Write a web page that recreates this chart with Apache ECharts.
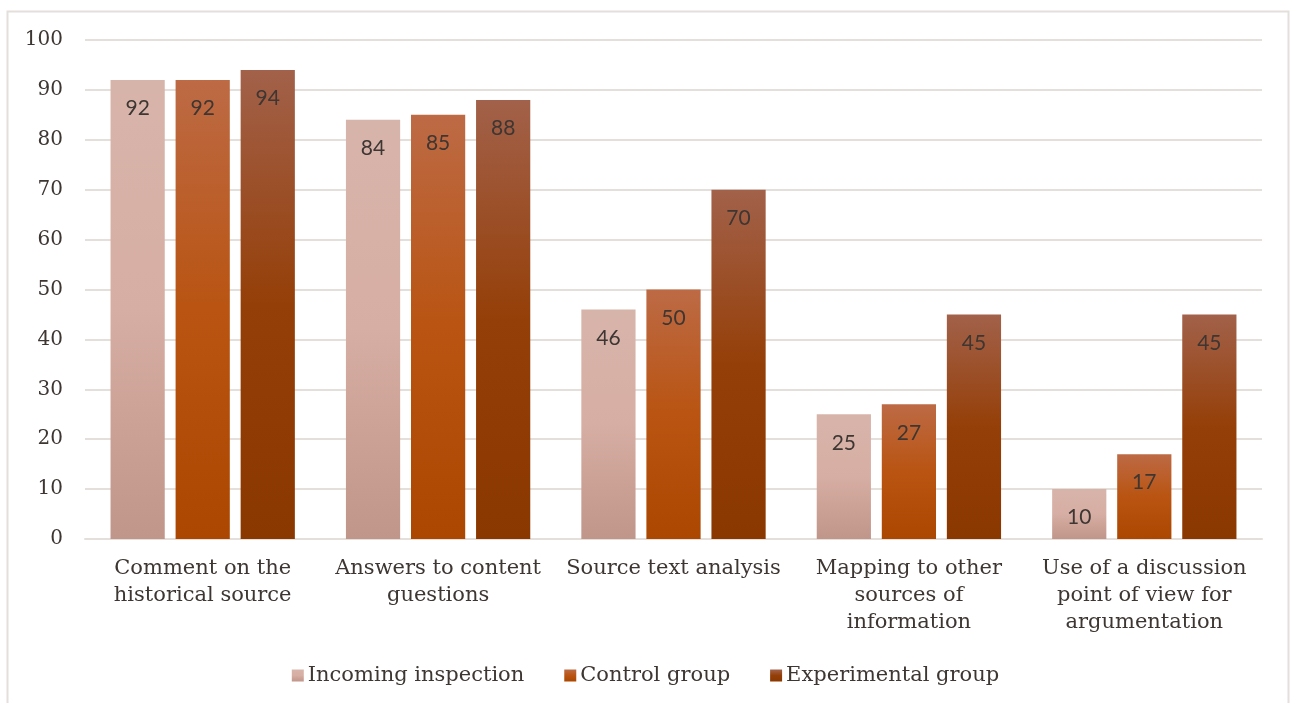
<!DOCTYPE html>
<html><head><meta charset="utf-8">
<script src="https://cdn.jsdelivr.net/npm/echarts@6/dist/echarts.min.js"></script>
<style>html,body{margin:0;padding:0;background:#fff}#c{width:1291px;height:703px}</style>
</head><body><div id="c"></div>
<script>
var categories = ["Comment on the\nhistorical source", "Answers to content\nguestions", "Source text analysis", "Mapping to other\nsources of\ninformation", "Use of a discussion\npoint of view for\nargumentation"];
var seriesNames = ["Incoming inspection", "Control group", "Experimental group"];
var incoming = [92, 84, 46, 25, 10];
var control = [92, 85, 50, 27, 17];
var experimental = [94, 88, 70, 45, 45];
var yTicks = [0, 10, 20, 30, 40, 50, 60, 70, 80, 90, 100];

function grad(top, mid, bot) {
  return new echarts.graphic.LinearGradient(0, 0, 0, 1, [
    {offset: 0, color: top}, {offset: 0.5, color: mid}, {offset: 1, color: bot}
  ]);
}
var colors = [
  grad('#d7b4aa', '#d7aea3', '#c0958a'),
  grad('#bd6a45', '#b95412', '#ab4700'),
  grad('#a2614a', '#953f08', '#8b3700')
];
var serif = "'DejaVu Serif', serif";
var sans = "'Lato', 'Liberation Sans', sans-serif";
var textColor = '#3d3632';
var datasets = [incoming, control, experimental];

var chart = echarts.init(document.getElementById('c'), null, {renderer: 'canvas'});
chart.setOption({
  animation: false,
  graphic: [{type: 'rect', shape: {x: 7.5, y: 11.5, width: 1281, height: 720}, style: {fill: 'none', stroke: '#e4dfdb', lineWidth: 2}, silent: true}],
  grid: {left: 85, right: 29, top: 40, bottom: 164, containLabel: false},
  legend: {
    bottom: 12, left: 'center', itemWidth: 12, itemHeight: 12, itemGap: 40,
    icon: 'rect',
    textStyle: {fontFamily: serif, fontSize: 21, color: textColor, padding: [0, 0, 0, -1]},
    data: seriesNames.map(function (n, i) { return {name: n, itemStyle: {color: colors[i]}}; })
  },
  xAxis: {
    type: 'category', data: categories,
    axisLine: {show: true, lineStyle: {color: '#e4dfdb', width: 2}},
    axisTick: {show: false},
    axisLabel: {fontFamily: serif, fontSize: 21, color: textColor, lineHeight: 27, margin: 16, interval: 0, verticalAlign: 'top'}
  },
  yAxis: {
    type: 'value', min: 0, max: 100, interval: 10,
    axisLine: {show: false}, axisTick: {show: false},
    splitLine: {lineStyle: {color: '#e4dfdb', width: 2}},
    axisLabel: {fontFamily: serif, fontSize: 20, color: textColor, margin: 22,
      formatter: function (v) { return yTicks.indexOf(v) >= 0 ? String(v) : ''; }}
  },
  series: datasets.map(function (d, i) {
    return {
      name: seriesNames[i], type: 'bar', data: d,
      barGap: '20%', barCategoryGap: '21.7%',
      itemStyle: {color: colors[i]},
      label: {show: true, position: 'insideTop', distance: 18, fontFamily: sans, fontSize: 21, color: textColor}
    };
  })
});
</script></body></html>
